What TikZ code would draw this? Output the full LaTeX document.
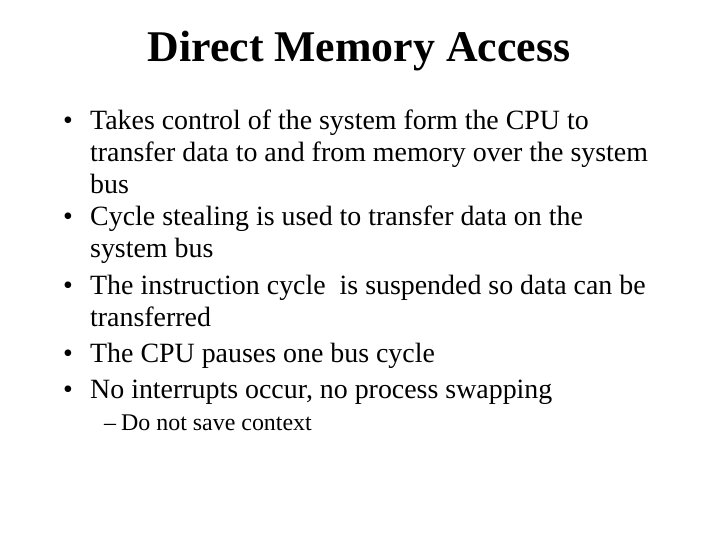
\documentclass[tikz,border=0pt]{standalone}
\usepackage{fontspec}
\setmainfont{Liberation Serif}
\begin{document}
\begin{tikzpicture}[x=1bp,y=-1bp,
  ln/.style={anchor=base west,inner sep=0pt,font=\fontsize{28}{32}\selectfont},
  sub/.style={anchor=base west,inner sep=0pt,font=\fontsize{24}{28}\selectfont},
  bul/.style={anchor=base,inner sep=0pt,font=\fontsize{28}{32}\selectfont}]
\useasboundingbox[fill=white] (0,0) rectangle (720,540);
\node[anchor=base,inner sep=0pt,font=\fontsize{44}{50}\selectfont\bfseries] (title) at (359,62) {Direct Memory Access};
\node[bul] (b1) at (68,130) {•};
\node[ln] (l1) at (90,130) {Takes control of the system form the CPU to};
\node[ln] (l2) at (90,162) {transfer data to and from memory over the system};
\node[ln] (l3) at (90,194) {bus};
\node[bul] (b2) at (68,226) {•};
\node[ln] (l4) at (90,226) {Cycle stealing is used to transfer data on the};
\node[ln] (l5) at (90,258) {system bus};
\node[bul] (b3) at (68,294) {•};
\node[ln] (l6) at (90,294) {The instruction cycle\ \ is suspended so data can be};
\node[ln] (l7) at (90,326) {transferred};
\node[bul] (b4) at (68,362) {•};
\node[ln] (l8) at (90,362) {The CPU pauses one bus cycle};
\node[bul] (b5) at (68,398) {•};
\node[ln] (l9) at (90,398) {No interrupts occur, no process swapping};
\node[sub] (d1) at (104,430) {–};
\node[sub] (s2) at (121,430) {Do not save context};
\end{tikzpicture}
\end{document}
